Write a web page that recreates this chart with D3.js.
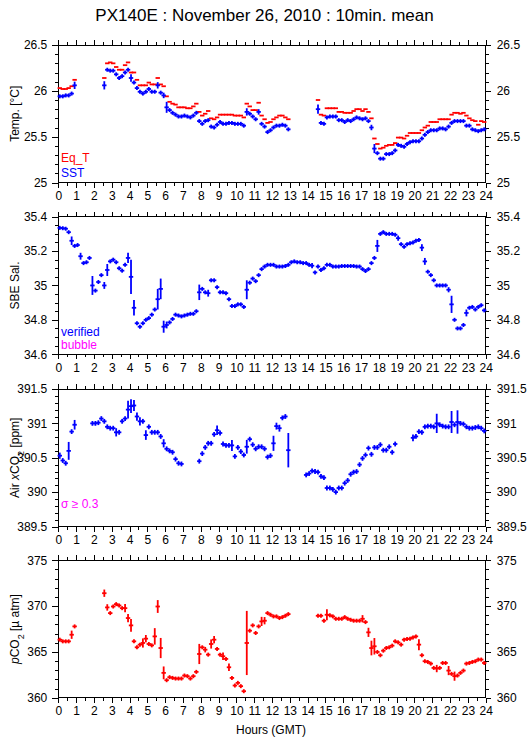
<!DOCTYPE html>
<html>
<head>
<meta charset="utf-8">
<script src="https://cdn.jsdelivr.net/npm/d3@7"></script>
<style>
  body { margin: 0; background: #fff; }
  text { font-family: "Liberation Sans", Arial, sans-serif; }
</style>
</head>
<body>
<script>
// 10 min means, slot i is centred at (i + 0.5) / 6 hours GMT
const hourTicks = d3.range(0, 25);

const eqT = [
  26.03, 26.02, 26.02, 26.03, 26.05, 26.12, null, null, null, null, null, null,
  null, null, null, 26.14, 26.30, 26.31, 26.30, 26.26, 26.23, 26.23, 26.28, 26.31,
  26.20, 26.20, 26.12, 26.06, 26.06, 26.06, 26.09, 26.07, 26.07, 26.14, 26.07, 26.05,
  25.94, 25.88, 25.86, 25.85, 25.82, 25.82, 25.82, 25.81, 25.81, 25.83, 25.86, 25.77,
  25.73, 25.75, 25.78, 25.70, 25.69, 25.71, 25.74, 25.74, 25.74, 25.74, 25.74, 25.73,
  25.73, 25.73, 25.71, 25.86, 25.83, 25.79, 25.79, 25.87, 25.73, 25.69, 25.65, 25.66,
  25.69, 25.71, 25.73, 25.73, 25.71, 25.69, null, null, null, null, null, null,
  null, null, null, 25.90, 25.74, 25.73, 25.81, 25.81, 25.81, 25.81, 25.77, 25.77,
  25.76, 25.76, 25.76, 25.78, 25.80, 25.80, 25.78, 25.80, 25.77, 25.70, 25.48, 25.42,
  25.37, 25.38, 25.40, 25.41, 25.41, 25.43, 25.49, 25.49, 25.48, 25.51, 25.54, 25.54,
  25.54, 25.54, 25.57, 25.60, 25.62, 25.66, 25.66, 25.66, 25.69, 25.69, 25.69, 25.69,
  25.74, 25.76, 25.76, 25.75, 25.76, 25.73, 25.70, 25.68, 25.67, 25.63, 25.67, 25.66
];

const sst = [
  25.94, 25.94, 25.95, 25.95, 25.97, 26.06, null, null, null, null, null, null,
  null, null, null, 26.06, 26.23, 26.22, 26.22, 26.18, 26.14, 26.16, 26.20, 26.23,
  26.14, 26.09, 26.03, 25.99, 25.97, 25.99, 26.02, 25.99, 25.99, 26.06, 25.98, 25.95,
  25.82, 25.79, 25.76, 25.74, 25.72, 25.72, 25.73, 25.72, 25.71, 25.73, 25.76, 25.67,
  25.64, 25.67, 25.68, 25.61, 25.60, 25.63, 25.66, 25.64, 25.64, 25.65, 25.65, 25.64,
  25.64, 25.64, 25.62, 25.77, 25.75, 25.72, 25.69, 25.77, 25.64, 25.61, 25.55, 25.57,
  25.60, 25.62, 25.62, 25.63, 25.62, 25.58, null, null, null, null, null, null,
  null, null, null, 25.80, 25.65, 25.64, 25.71, 25.72, 25.72, 25.72, 25.68, 25.68,
  25.66, 25.68, 25.67, 25.69, 25.71, 25.70, 25.69, 25.70, 25.67, 25.60, 25.37, 25.32,
  25.26, 25.26, 25.31, 25.31, 25.32, 25.35, 25.41, 25.40, 25.39, 25.42, 25.44, 25.45,
  25.45, 25.45, 25.48, 25.52, 25.55, 25.57, 25.57, 25.57, 25.59, 25.59, 25.58, 25.61,
  25.65, 25.67, 25.67, 25.67, 25.67, 25.62, 25.62, 25.58, 25.57, 25.56, 25.57, 25.58
];
const sstSd = 0.012;
const sstSdWide = [[5, 0.04], [15, 0.045], [24, 0.04], [33, 0.035], [35, 0.03], [36, 0.06],
  [63, 0.04], [67, 0.03], [87, 0.05], [105, 0.03], [106, 0.05]];

const sal = [
  35.335, 35.333, 35.33, 35.31, 35.26, 35.23, 35.235, 35.17, 35.13, 35.135, 35.16, 35.0,
  34.97, 35.02, 35.06, 35.0, 35.09, 35.14, 35.15, 35.135, 35.10, 35.086, 35.12, 35.16,
  35.05, 34.87, 34.78, 34.76, 34.78, 34.80, 34.81, 34.83, 34.86, 34.92, 34.98, 34.76,
  34.77, 34.785, 34.805, 34.83, 34.825, 34.82, 34.825, 34.83, 34.835, 34.835, 34.85, 34.96,
  34.98, 34.96, 34.955, 35.03, 35.03, 34.99, 34.96, 34.96, 34.955, 34.92, 34.88, 34.88,
  34.89, 34.89, 34.875, 34.975, 35.016, 35.04, 35.025, 35.06, 35.095, 35.11, 35.12, 35.12,
  35.12, 35.11, 35.11, 35.11, 35.113, 35.12, 35.135, 35.14, 35.135, 35.135, 35.13, 35.13,
  35.12, 35.115, 35.076, 35.11, 35.09, 35.10, 35.12, 35.12, 35.11, 35.11, 35.11, 35.113,
  35.113, 35.113, 35.113, 35.113, 35.11, 35.11, 35.095, 35.084, 35.095, 35.13, 35.16, 35.23,
  35.30, 35.31, 35.30, 35.30, 35.30, 35.295, 35.275, 35.24, 35.225, 35.24, 35.245, 35.25,
  35.26, 35.265, 35.22, 35.14, 35.08, 35.06, 35.03, 35.0, 35.0, 35.0, 35.0, 34.975,
  34.89, 34.80, 34.75, 34.75, 34.77, 34.84, 34.87, 34.875, 34.86, 34.875, 34.885, 34.855
];
const salSd = 0.006;
const salSdWide = [[4, 0.025], [7, 0.02], [11, 0.055], [15, 0.02], [16, 0.035], [23, 0.03],
  [24, 0.1], [25, 0.045], [33, 0.06], [34, 0.06], [35, 0.035], [36, 0.02], [47, 0.045],
  [50, 0.02], [63, 0.055], [85, 0.015], [107, 0.035], [114, 0.015], [122, 0.02],
  [123, 0.02], [131, 0.015], [132, 0.05], [137, 0.02]];

const airCo2 = [
  390.53, 390.46, 390.42, 390.60, 390.88, 390.98, null, null, null, null, null, 391.0,
  391.0, 391.01, 391.07, 391.03, 390.95, 390.93, 390.93, 390.87, 390.87, 391.03, 391.07, 391.2,
  391.25, 391.26, 391.1, 391.03, 391.03, 390.83, 390.95, 390.87, 390.87, 390.87, 390.81, 390.71,
  390.63, 390.60, 390.58, 390.48, 390.42, 390.41, null, null, null, null, null, 390.45,
  390.56, 390.65, 390.71, 390.71, 390.84, 390.90, 390.86, 390.70, 390.68, 390.68, 390.68, 390.52,
  390.65, 390.59, 390.54, 390.66, 390.77, 390.69, 390.63, 390.66, 390.66, 390.63, 390.51, 390.53,
  390.71, 390.96, 390.93, 391.08, 391.10, 390.61, null, null, null, null, null, 390.25,
  390.27, 390.31, 390.30, 390.29, 390.23, 390.21, 390.06, 390.06, 390.04, 390.0, 390.06, 390.06,
  390.13, 390.17, 390.26, 390.29, 390.30, 390.40, 390.49, 390.54, 390.64, 390.55, 390.65, 390.65,
  390.69, 390.61, 390.61, 390.66, 390.58, 390.70, null, null, null, null, null, 390.79,
  390.81, 390.88, 390.87, 390.95, 390.96, 390.96, 390.95, 391.0, 390.98, 390.96, 390.95, 390.95,
  391.02, 390.98, 391.02, 391.0, 390.99, 390.95, 390.93, 390.93, 390.94, 390.95, 390.93, 390.89
];
const airSd = 0.035;
const airSdWide = [[0, 0.045], [3, 0.13], [5, 0.07], [19, 0.06], [23, 0.13], [24, 0.1],
  [25, 0.08], [26, 0.06], [27, 0.06], [29, 0.07], [35, 0.06], [53, 0.07], [58, 0.08],
  [63, 0.1], [72, 0.11], [73, 0.05], [74, 0.05], [77, 0.25], [119, 0.05], [127, 0.14],
  [132, 0.16], [134, 0.17]];

const pco2 = [
  366.34, 366.16, 366.16, 366.16, 366.88, 367.79, null, null, null, null, null, null,
  null, null, null, 371.41, 369.86, 369.24, 369.96, 370.22, 370.07, 369.78, 369.78, 368.7,
  367.9, 366.16, 365.51, 365.8, 365.98, 366.45, 365.87, 365.72, 366.7, 369.96, 365.43, 362.72,
  361.92, 362.25, 362.17, 362.10, 362.10, 362.10, 362.43, 362.36, 362.10, 362.36, 362.83, 364.78,
  365.51, 365.25, 364.71, 365.87, 366.34, 365.33, 364.71, 364.53, 364.24, 363.33, 362.17, 361.34,
  361.63, 361.27, 360.72, 365.98, 367.32, 367.9, 367.07, 367.79, 368.33, 368.41, 369.24, 369.06,
  368.88, 368.88, 368.70, 368.80, 368.95, 369.13, null, null, null, null, null, null,
  null, null, null, 368.95, 368.95, 368.41, 369.06, 369.0, 368.88, 368.62, 368.62, 368.62,
  368.80, 368.62, 368.51, 368.41, 368.41, 368.41, 368.62, 368.26, 367.14, 365.43, 365.62, 365.0,
  364.64, 365.14, 365.43, 365.51, 365.69, 366.16, 366.05, 365.8, 366.34, 366.41, 366.45, 366.59,
  366.7, 365.8, 364.64, 363.99, 363.91, 363.73, 363.26, 363.19, 363.26, 363.8, 363.8, 362.97,
  362.61, 362.36, 362.43, 362.72, 362.97, 363.73, 363.8, 363.91, 363.99, 364.17, 364.17, 363.8
];
const pco2Sd = 0.2;
const pco2SdWide = [[4, 0.45], [15, 0.4], [16, 0.35], [22, 0.45], [23, 0.45], [24, 0.7],
  [28, 0.5], [29, 0.4], [32, 0.9], [33, 0.7], [34, 1.1], [35, 0.7], [47, 1.1], [49, 0.3],
  [51, 0.5], [52, 0.4], [55, 0.4], [57, 0.4], [63, 3.5], [68, 0.5], [69, 0.4], [90, 0.6],
  [102, 0.4], [104, 0.5], [105, 0.8], [106, 0.9], [121, 0.6], [127, 0.4], [131, 0.5], [133, 0.5]];

const tempTicks = [25, 25.5, 26, 26.5];
const salTicks = [34.6, 34.8, 35, 35.2, 35.4];
const airTicks = [389.5, 390, 390.5, 391, 391.5];
const pco2Ticks = [360, 365, 370, 375];

const width = 529, height = 739;
const left = 58.3, right = 485.7, panelH = 137.5;

const svg = d3.select('body').append('svg')
  .attr('width', width)
  .attr('height', height);

const x = d3.scaleLinear().domain([0, 24]).range([left, right]);
const slotHour = i => (i + 0.5) / 6;

function sdArray(base, wide) {
  const a = new Array(144).fill(base);
  wide.forEach(([i, v]) => { a[i] = v });
  return a;
}

svg.append('text')
  .attr('x', 264.5)
  .attr('y', 21)
  .attr('text-anchor', 'middle')
  .style('font-size', '17px')
  .text('PX140E : November 26, 2010 : 10min. mean');

function panel(top, ticks, minorStep, label) {
  const y = d3.scaleLinear()
    .domain([ticks[0], ticks[ticks.length - 1]])
    .range([top + panelH, top]);
  const g = svg.append('g');
  const minor = d3.range(ticks[0], ticks[ticks.length - 1] + minorStep / 2, minorStep);
  const halfHours = d3.range(0.5, 24, 1);

  // y axes both sides, major + minor ticks pointing out
  g.append('g').attr('transform', 'translate(' + left + ',0)')
    .call(d3.axisLeft(y).tickValues(minor).tickSize(3).tickFormat(''));
  g.append('g').attr('transform', 'translate(' + left + ',0)')
    .call(d3.axisLeft(y).tickValues(ticks).tickSize(6).tickPadding(5).tickFormat(d => String(d)));
  g.append('g').attr('transform', 'translate(' + right + ',0)')
    .call(d3.axisRight(y).tickValues(minor).tickSize(3).tickFormat(''));
  g.append('g').attr('transform', 'translate(' + right + ',0)')
    .call(d3.axisRight(y).tickValues(ticks).tickSize(5).tickPadding(6).tickFormat(d => String(d)));

  // hours, top and bottom
  g.append('g').attr('transform', 'translate(0,' + top + ')')
    .call(d3.axisTop(x).tickValues(hourTicks).tickSize(5).tickFormat(''));
  g.append('g').attr('transform', 'translate(0,' + top + ')')
    .call(d3.axisTop(x).tickValues(halfHours).tickSize(3).tickFormat(''));
  g.append('g').attr('transform', 'translate(0,' + (top + panelH) + ')')
    .call(d3.axisBottom(x).tickValues(halfHours).tickSize(3).tickFormat(''));
  g.append('g').attr('transform', 'translate(0,' + (top + panelH) + ')')
    .call(d3.axisBottom(x).tickValues(hourTicks).tickSize(5).tickPadding(4).tickFormat(d => d));

  g.selectAll('.domain').remove();
  g.selectAll('.tick line').attr('stroke', '#000').attr('shape-rendering', 'crispEdges');
  g.selectAll('.tick text').attr('fill', '#000').style('font-size', '12px')
    .style('font-family', '"Liberation Sans", Arial, sans-serif');

  g.append('rect')
    .attr('x', left).attr('y', top)
    .attr('width', right - left).attr('height', panelH)
    .attr('fill', 'none').attr('stroke', '#000')
    .attr('shape-rendering', 'crispEdges');

  const lab = g.append('text')
    .attr('transform', 'translate(19,' + (top + panelH / 2) + ') rotate(-90)')
    .attr('text-anchor', 'middle')
    .style('font-size', '12px');
  label(lab);
  return { g, y };
}

function marks(p, vals, sds, color, dashOnly) {
  const pts = vals.map((v, i) => ({ i, v, s: sds ? sds[i] : 0 })).filter(d => d.v != null);
  const m = p.g.append('g').attr('stroke', color).attr('stroke-width', 1.8);
  m.selectAll('line.h').data(pts).join('line').attr('class', 'h')
    .attr('x1', d => x(slotHour(d.i)) - 2.2)
    .attr('x2', d => x(slotHour(d.i)) + 2.2)
    .attr('y1', d => p.y(d.v))
    .attr('y2', d => p.y(d.v));
  if (dashOnly) return;
  m.selectAll('line.v').data(pts).join('line').attr('class', 'v')
    .attr('x1', d => x(slotHour(d.i)))
    .attr('x2', d => x(slotHour(d.i)))
    .attr('y1', d => Math.min(p.y(d.v + d.s), p.y(d.v) - 2))
    .attr('y2', d => Math.max(p.y(d.v - d.s), p.y(d.v) + 2));
}

function note(p, xPos, yPos, color, txt) {
  p.g.append('text')
    .attr('x', xPos).attr('y', yPos)
    .attr('fill', color)
    .style('font-size', '12px')
    .text(txt);
}

// Temperature
const p1 = panel(45, tempTicks, 0.1, t => t.text('Temp. [°C]'));
marks(p1, eqT, null, '#ff0000', true);
marks(p1, sst, sdArray(sstSd, sstSdWide), '#0000ff', false);
note(p1, 61, 162, '#ff0000', 'Eq_T');
note(p1, 61, 177, '#0000ff', 'SST');

// Salinity
const p2 = panel(216.7, salTicks, 0.05, t => t.text('SBE Sal.'));
marks(p2, sal, sdArray(salSd, salSdWide), '#0000ff', false);
note(p2, 61, 336, '#0000ff', 'verified');
note(p2, 61, 349, '#ff00ff', 'bubble');

// Air xCO2
const p3 = panel(389, airTicks, 0.1, t => {
  t.append('tspan').text('Air ');
  t.append('tspan').style('font-style', 'italic').text('x');
  t.append('tspan').text('CO');
  t.append('tspan').attr('baseline-shift', 'sub').style('font-size', '9px').text('2');
  t.append('tspan').text(' [ppm]');
});
marks(p3, airCo2, sdArray(airSd, airSdWide), '#0000ff', false);
note(p3, 61, 508, '#ff00ff', 'σ ≥ 0.3');

// pCO2
const p4 = panel(560.3, pco2Ticks, 1, t => {
  t.append('tspan').style('font-style', 'italic').text('p');
  t.append('tspan').text('CO');
  t.append('tspan').attr('baseline-shift', 'sub').style('font-size', '9px').text('2');
  t.append('tspan').text(' [µ atm]');
});
marks(p4, pco2, sdArray(pco2Sd, pco2SdWide), '#ff0000', false);

svg.append('text')
  .attr('x', 271)
  .attr('y', 734)
  .attr('text-anchor', 'middle')
  .style('font-size', '12px')
  .text('Hours (GMT)');
</script>
</body>
</html>
